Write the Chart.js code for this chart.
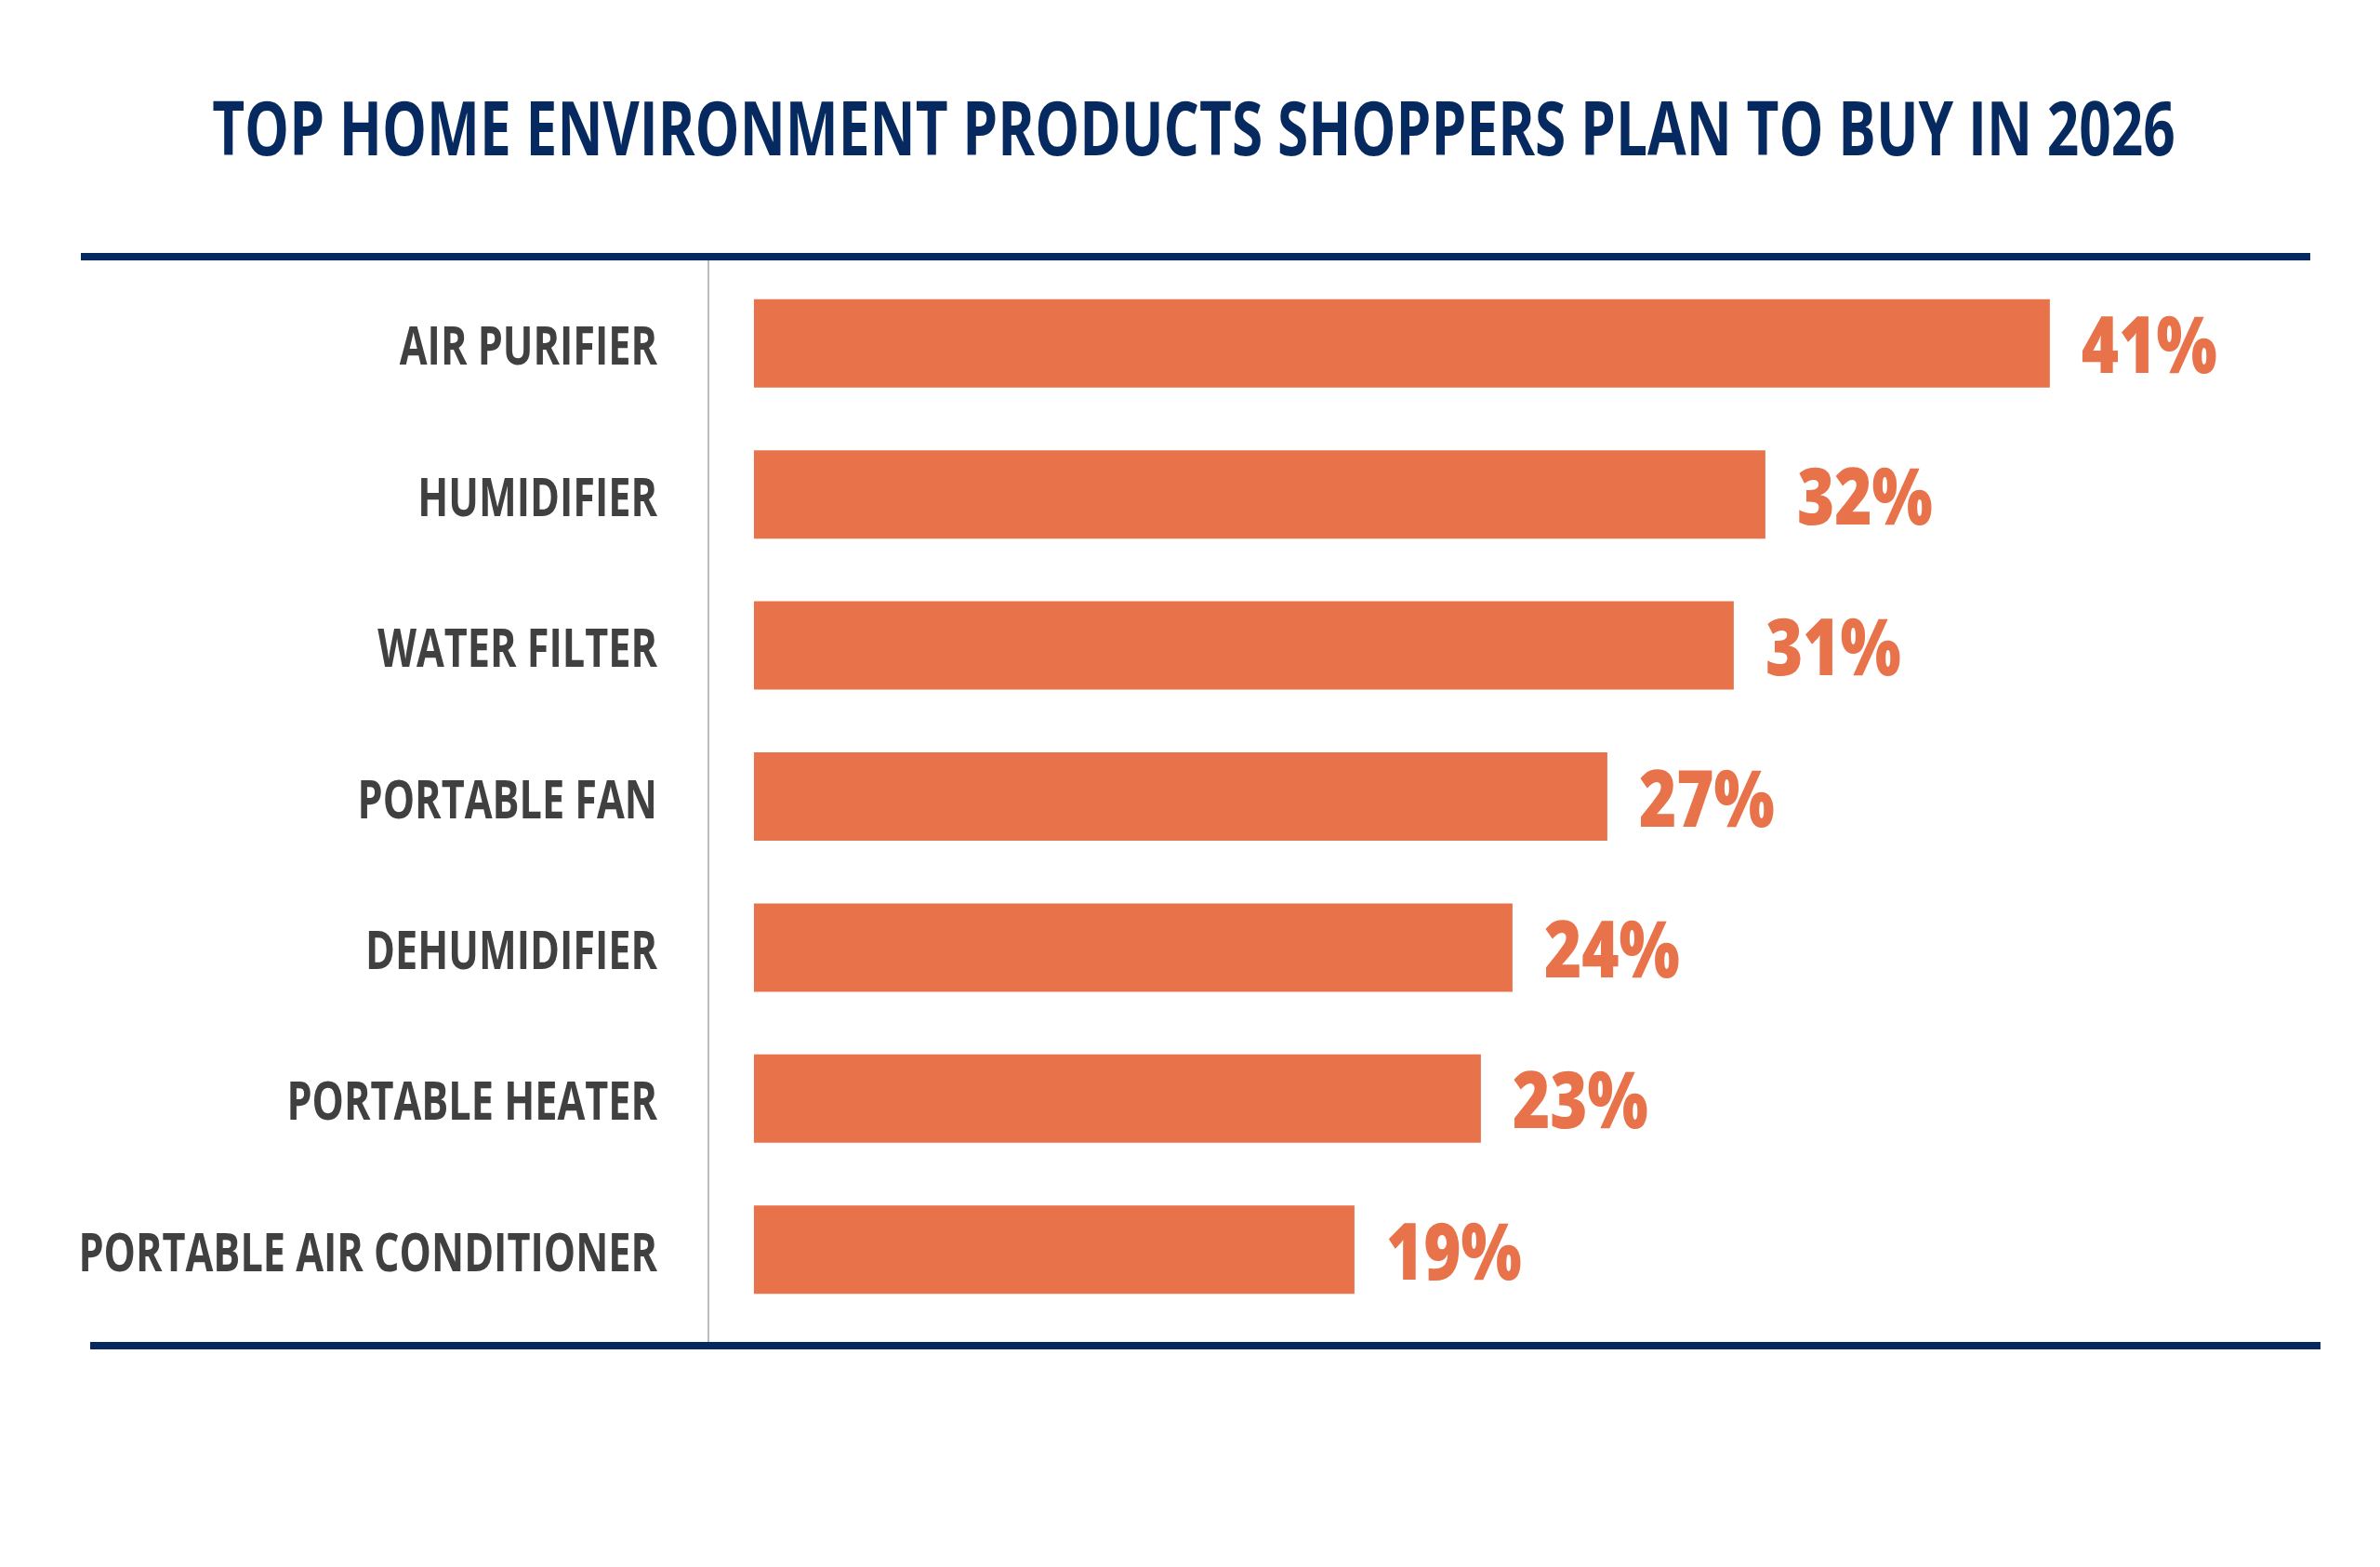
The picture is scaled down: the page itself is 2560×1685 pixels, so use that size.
<!DOCTYPE html>
<html lang="en">
<head>
<meta charset="utf-8">
<title>Top home environment products shoppers plan to buy in 2026</title>
<script src="https://cdn.jsdelivr.net/npm/chart.js@4.4.1/dist/chart.umd.min.js"></script>
<style>
  html, body { margin: 0; padding: 0; background: #ffffff; }
  #wrap { position: relative; width: 2560px; height: 1685px; }
</style>
</head>
<body>
<div id="wrap"><canvas id="chart"></canvas></div>
<script>
"use strict";

/* ── Data ────────────────────────────────────────────────────── */
const TITLE = "TOP HOME ENVIRONMENT PRODUCTS SHOPPERS PLAN TO BUY IN 2026";

const PRODUCTS = [
  "AIR PURIFIER",
  "HUMIDIFIER",
  "WATER FILTER",
  "PORTABLE FAN",
  "DEHUMIDIFIER",
  "PORTABLE HEATER",
  "PORTABLE AIR CONDITIONER",
];

const SHARES = [41, 32, 31, 27, 24, 23, 19];

/* ── Style ───────────────────────────────────────────────────── */
const NAVY   = "#062a5f";
const ORANGE = "#e8724a";
const LABEL  = "#404040";
const RULE   = "#bdbdbd";
const FACE   = "'Open Sans', 'Liberation Sans', sans-serif";

/* Text in the original is a condensed face; squeeze it horizontally */
function condensedText(ctx, text, x, y, font, color, squeeze, align) {
  ctx.save();
  ctx.font = font;
  ctx.fillStyle = color;
  ctx.textAlign = "left";
  ctx.textBaseline = "alphabetic";
  const w = ctx.measureText(text).width * squeeze;
  let left = x;
  if (align === "right")  left = x - w;
  if (align === "center") left = x - w / 2;
  ctx.translate(left, y);
  ctx.scale(squeeze, 1);
  ctx.fillText(text, 0, 0);
  ctx.restore();
}

/* ── Plugin: title, rules, category and value labels ─────────── */
const framePlugin = {
  id: "frame",
  afterDraw(chart) {
    const { ctx, chartArea, scales } = chart;
    const area = chartArea;

    /* Title */
    condensedText(ctx, TITLE, 1284, area.top - 121,
      `700 80px ${FACE}`, NAVY, 0.755, "center");

    /* Navy rules top & bottom */
    ctx.save();
    ctx.fillStyle = NAVY;
    ctx.fillRect(87, area.top - 16, area.right - 87, 8);
    ctx.fillRect(97, area.bottom + 18, area.right + 11 - 97, 8);

    /* Grey vertical axis */
    ctx.strokeStyle = RULE;
    ctx.lineWidth = 2;
    ctx.beginPath();
    ctx.moveTo(area.left, area.top - 8);
    ctx.lineTo(area.left, area.bottom + 18);
    ctx.stroke();
    ctx.restore();

    /* Category labels */
    const yScale = scales.y;
    chart.data.labels.forEach((lab, i) => {
      const y = yScale.getPixelForTick(i);
      condensedText(ctx, lab, area.left - 55, y + 23,
        `700 58px ${FACE}`, LABEL, 0.745, "right");
    });

    /* Value labels */
    const meta = chart.getDatasetMeta(0);
    meta.data.forEach((bar, i) => {
      const v = chart.data.datasets[0].data[i];
      condensedText(ctx, v + "%", bar.x + 34, bar.y + 32,
        `800 85px ${FACE}`, ORANGE, 0.81, "left");
    });
  }
};

/* ── Chart ───────────────────────────────────────────────────── */
new Chart(document.getElementById("chart"), {
  type: "bar",
  plugins: [framePlugin],
  data: {
    labels: PRODUCTS,
    datasets: [{
      data: SHARES,
      backgroundColor: ORANGE,
      borderWidth: 0,
      categoryPercentage: 1,
      barPercentage: 0.585,
    }]
  },
  options: {
    indexAxis: "y",
    responsive: true,
    maintainAspectRatio: false,
    animation: false,
    devicePixelRatio: 1,
    layout: { padding: { top: 288, bottom: 260, left: 0, right: 75 } },
    scales: {
      x: {
        display: false,
        min: -1.44,
        max: 49.24,
      },
      y: {
        grid:   { display: false },
        border: { display: false },
        ticks:  { display: false },
        afterFit(scale) { scale.width = 762; },
      }
    },
    plugins: {
      legend:  { display: false },
      tooltip: { enabled: false },
    },
  }
});
</script>
</body>
</html>
